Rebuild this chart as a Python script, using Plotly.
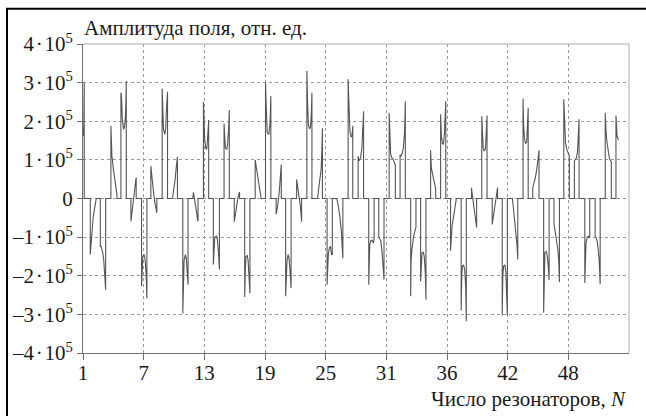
import plotly.graph_objects as go

# Position along the resonator chain and field amplitude (in units of 10^5)
position = [
    1.0, 1.04, 1.08, 1.12, 1.12,
    1.72, 1.72, 1.78, 1.85, 2.0, 2.15, 2.31, 2.31,
    2.71, 2.71, 2.78, 2.85, 2.95, 3.05, 3.15, 3.24, 3.24,
    3.76, 3.76, 3.86, 4.03, 4.15, 4.26, 4.36, 4.36,
    4.75, 4.75, 4.82, 4.88, 4.95, 5.01, 5.1, 5.18, 5.24, 5.28, 5.28,
    5.74, 5.74, 5.84, 6.0, 6.1, 6.18, 6.26, 6.26,
    6.79, 6.79, 6.85, 6.92, 7.05, 7.15, 7.25, 7.32, 7.32,
    7.71, 7.71, 7.8, 7.91, 8.0, 8.11, 8.2, 8.3, 8.3,
    8.83, 8.83, 8.9, 8.96, 9.09, 9.18, 9.25, 9.36, 9.36,
    9.82, 9.88, 10.0, 10.11, 10.2, 10.28, 10.34, 10.34,
    10.87, 10.87, 10.95, 11.0, 11.13, 11.22, 11.3, 11.39, 11.39,
    11.86, 11.92, 12.0, 12.09, 12.2, 12.3, 12.38, 12.38,
    12.91, 12.91, 12.97, 13.04, 13.17, 13.25, 13.33, 13.43, 13.43,
    13.89, 13.89, 13.95, 14.03, 14.22, 14.3, 14.4, 14.49, 14.49,
    14.95, 14.95, 15.02, 15.08, 15.21, 15.3, 15.4, 15.47, 15.47,
    15.96, 15.96, 16.05, 16.15, 16.25, 16.35, 16.48, 16.48,
    16.99, 16.99, 17.05, 17.12, 17.25, 17.33, 17.42, 17.51, 17.51,
    18.03, 18.03, 18.15, 18.24, 18.35, 18.45, 18.55, 18.62, 18.62,
    19.05, 19.05, 19.12, 19.22, 19.38, 19.5, 19.58, 19.58,
    20.1, 20.1, 20.25, 20.4, 20.5, 20.61, 20.61,
    21.04, 21.04, 21.1, 21.18, 21.28, 21.38, 21.48, 21.58, 21.58,
    22.13, 22.13, 22.25, 22.38, 22.5, 22.62, 22.62,
    23.14, 23.14, 23.22, 23.3, 23.4, 23.5, 23.58, 23.64, 23.64,
    24.2, 24.33, 24.45, 24.55, 24.62, 24.68, 24.68,
    25.14, 25.14, 25.2, 25.27, 25.37, 25.47, 25.58, 25.66, 25.66,
    26.1, 26.25, 26.4, 26.55, 26.65, 26.7, 26.7,
    27.22, 27.22, 27.3, 27.4, 27.5, 27.6, 27.68, 27.68,
    28.21, 28.21, 28.3, 28.45, 28.58, 28.68, 28.75, 28.75,
    29.26, 29.26, 29.3, 29.36, 29.45, 29.6, 29.72, 29.79, 29.79,
    30.25, 30.25, 30.35, 30.45, 30.58, 30.7, 30.77, 30.77,
    31.28, 31.28, 31.35, 31.43, 31.55, 31.7, 31.85, 31.89, 31.89,
    32.36, 32.36, 32.45, 32.55, 32.68, 32.8, 32.88, 32.88,
    33.41, 33.41, 33.45, 33.54, 33.7, 33.87, 33.93, 33.93,
    34.39, 34.39, 34.45, 34.53, 34.65, 34.75, 34.85, 34.92, 34.92,
    35.38, 35.38, 35.45, 35.6, 35.75, 35.88, 35.88,
    36.37, 36.37, 36.45, 36.55, 36.65, 36.75, 36.85, 36.88, 36.88,
    37.35, 37.35, 37.42, 37.5, 37.66, 37.8, 37.93, 37.93,
    38.4, 38.4, 38.46, 38.52, 38.64, 38.75, 38.85, 38.91, 38.91,
    39.42, 39.42, 39.5, 39.6, 39.75, 39.85, 39.93, 39.93,
    40.44, 40.44, 40.5, 40.58, 40.68, 40.8, 40.88, 40.96, 40.96,
    41.47, 41.47, 41.55, 41.7, 41.85, 42.0, 42.0,
    42.46, 42.46, 42.52, 42.6, 42.72, 42.82, 42.9, 42.97, 42.97,
    43.47, 43.55, 43.68, 43.8, 43.92, 44.0, 44.0,
    44.52, 44.52, 44.58, 44.66, 44.76, 44.88, 44.96, 45.03, 45.03,
    45.48, 45.48, 45.6, 45.75, 45.9, 46.0, 46.1, 46.1,
    46.56, 46.56, 46.62, 46.68, 46.8, 46.9, 47.0, 47.1, 47.1,
    47.58, 47.58, 47.7, 47.85, 47.95, 48.05, 48.12, 48.12,
    48.55, 48.55, 48.62, 48.72, 48.85, 48.97, 49.05, 49.1, 49.1,
    49.6, 49.6, 49.68, 49.8, 49.9, 49.98, 50.06, 50.06,
    50.63, 50.63, 50.68, 50.75, 50.88, 51.0, 51.12, 51.12,
    51.65, 51.65, 51.75, 51.85, 51.95, 52.05, 52.15, 52.15,
    52.65, 52.65, 52.72, 52.8, 52.9, 53.05, 53.18, 53.25, 53.25,
    53.71, 53.71, 53.76, 53.82, 53.9, 53.97,
]

amplitude = [
    1.7, 1.62, 1.95, 3.0, 0,
    0, -1.45, -1.2, -0.95, -0.5, -0.25, -0.03, 0,
    0, -1.24, -1.24, -1.3, -1.4, -1.6, -1.9, -2.36, 0,
    0, 1.88, 1.1, 0.71, 0.5, 0.32, 0.1, 0,
    0, 2.74, 2.6, 2.1, 1.83, 1.79, 1.85, 2.05, 2.5, 3.04, 0,
    0, -0.59, -0.4, -0.1, 0.2, 0.4, 0.54, 0,
    0, -2.27, -1.8, -1.5, -1.45, -1.6, -2.0, -2.58, 0,
    0, 0.84, 0.55, 0.3, 0.1, -0.11, -0.25, -0.37, 0,
    0, 2.85, 2.2, 1.8, 1.66, 1.8, 2.3, 2.76, 0,
    0, 0.06, 0.25, 0.49, 0.75, 0.9, 1.08, 0,
    0, -2.98, -2.0, -1.6, -1.45, -1.55, -1.9, -2.23, 0,
    0, 0.16, 0.05, -0.1, -0.3, -0.5, -0.59, 0,
    0, 2.5, 2.0, 1.5, 1.27, 1.3, 1.6, 2.03, 0,
    0, -1.71, -1.2, -1.0, -0.98, -1.1, -1.4, -1.84, 0,
    0, 1.94, 1.5, 1.31, 1.27, 1.4, 1.8, 2.29, 0,
    0, -0.6, -0.45, -0.25, -0.05, 0.06, 0.17, 0,
    0, -2.55, -1.9, -1.5, -1.48, -1.6, -2.0, -2.46, 0,
    0, 1.0, 0.8, 0.67, 0.5, 0.35, 0.15, 0.05, 0,
    0, 3.0, 2.4, 1.7, 1.66, 1.96, 2.65, 0,
    0, -0.41, -0.2, 0.15, 0.45, 0.88, 0,
    0, -2.53, -2.0, -1.6, -1.45, -1.55, -1.9, -2.32, 0,
    0, 0.49, 0.3, 0.06, -0.2, -0.6, 0,
    0, 3.3, 2.4, 1.9, 1.8, 1.85, 2.2, 2.74, 0,
    0, 0.3, 0.5, 0.75, 1.2, 1.82, 0,
    0, -2.23, -1.7, -1.41, -1.28, -1.24, -1.45, -1.45, 0,
    0, -0.2, -0.45, -0.85, -1.2, -1.55, 0,
    0, 3.09, 2.4, 1.75, 1.6, 1.6, 1.88, 0,
    0, 1.1, 0.98, 1.05, 1.3, 1.7, 2.26, 0,
    0, -2.23, -1.6, -1.2, -1.1, -1.08, -1.15, -1.06, 0,
    0, -0.98, -1.05, -1.1, -1.4, -1.8, -2.1, 0,
    0, 2.22, 1.6, 1.15, 1.05, 1.0, 0.88, 0.88, 0,
    0, 1.13, 1.1, 1.15, 1.3, 1.7, 2.52, 0,
    0, -2.53, -1.6, -1.3, -0.98, -0.8, -0.75, 0,
    0, -2.14, -1.6, -1.41, -1.38, -1.5, -1.9, -2.62, 0,
    0, 1.25, 0.8, 0.6, 0.45, 0.25, 0,
    0, 2.18, 1.6, 1.42, 1.4, 1.7, 2.3, 2.52, 0,
    0, -1.35, -1.1, -0.72, -0.45, -0.25, -0.05, 0,
    0, -2.9, -2.0, -1.75, -1.72, -1.85, -2.3, -3.18, 0,
    0, 0.28, 0.1, -0.1, -0.3, -0.5, -0.75, 0,
    0, 2.13, 1.6, 1.3, 1.23, 1.28, 1.7, 2.15, 0,
    0, -0.67, -0.5, -0.25, 0.0, 0.28, 0,
    0, -3.03, -2.0, -1.75, -1.72, -1.9, -2.5, -3.02, 0,
    0, -0.2, -0.5, -0.85, -1.2, -1.58, 0,
    0, 2.59, 1.9, 1.55, 1.43, 1.45, 1.9, 2.35, 0,
    0, 0.28, 0.38, 0.55, 0.8, 1.0, 1.25, 0,
    0, -2.96, -1.8, -1.4, -1.37, -1.45, -1.7, -2.11, 0,
    0, -0.65, -0.85, -1.1, -1.3, -1.6, -2.16, 0,
    0, 2.57, 1.8, 1.44, 1.27, 1.2, 1.15, 1.1, 0,
    0, 0.98, 1.0, 1.05, 1.2, 1.5, 2.05, 0,
    0, -2.19, -1.5, -1.15, -1.0, -0.98, -1.02, 0,
    0, -1.0, -1.02, -1.1, -1.3, -1.6, -2.22, 0,
    0, 2.22, 1.8, 1.5, 1.25, 1.05, 0.98, 0.95, 0,
    0, 2.15, 1.75, 1.6, 1.55, 1.52,
]

# Axis ticks
x_tick_pos = [1, 7, 13, 19, 25, 31, 37, 43, 49]
x_tick_text = ["1", "7", "13", "19", "25", "31", "36", "42", "48"]
y_tick_pos = [-4, -3, -2, -1, 0, 1, 2, 3, 4]
y_tick_text = ["\u20134\u200a·\u200a10<sup>5</sup>", "\u20133\u200a·\u200a10<sup>5</sup>",
               "\u20132\u200a·\u200a10<sup>5</sup>", "\u20131\u200a·\u200a10<sup>5</sup>", "0",
               "1\u200a·\u200a10<sup>5</sup>", "2\u200a·\u200a10<sup>5</sup>",
               "3\u200a·\u200a10<sup>5</sup>", "4\u200a·\u200a10<sup>5</sup>"]

FONT = "'Liberation Serif', 'Times New Roman', 'DejaVu Serif', serif"
SIZE = 21

fig = go.Figure()
fig.add_trace(go.Scatter(
    x=position, y=amplitude, mode="lines",
    line=dict(color="#555555", width=1.1),
    hoverinfo="skip", showlegend=False,
))

fig.update_layout(
    width=646, height=416,
    margin=dict(l=83, r=17, t=44, b=63),
    paper_bgcolor="white", plot_bgcolor="white",
    font=dict(family=FONT, size=SIZE, color="#1a1a1a"),
    xaxis=dict(
        range=[1, 55], tickmode="array", tickvals=x_tick_pos, ticktext=x_tick_text,
        showgrid=True, gridcolor="#9a9a9a", griddash="dot", gridwidth=1,
        showline=True, linecolor="#707070", linewidth=1,
        ticks="outside", ticklen=6, tickcolor="#707070",
        ticklabelstandoff=-5, automargin=False,
        zeroline=False, tickfont=dict(family=FONT, size=SIZE, color="#1a1a1a"),
    ),
    yaxis=dict(
        range=[-4, 4], tickmode="array", tickvals=y_tick_pos, ticktext=y_tick_text,
        showgrid=True, gridcolor="#9a9a9a", griddash="dot", gridwidth=1,
        showline=True, linecolor="#707070", linewidth=1,
        ticks="outside", ticklen=5, tickcolor="#707070", automargin=False,
        zeroline=False, tickfont=dict(family=FONT, size=SIZE, color="#1a1a1a"),
    ),
    shapes=[
        # light border on the top and right of the plotting area
        dict(type="line", xref="paper", yref="paper", x0=0, x1=1, y0=1, y1=1,
             line=dict(color="#ababab", width=1)),
        dict(type="line", xref="paper", yref="paper", x0=1, x1=1, y0=0, y1=1,
             line=dict(color="#ababab", width=1)),
        # outer frame
        dict(type="rect", xref="paper", yref="paper",
             x0=-0.1392, x1=1.2, y0=-0.4, y1=1.1142,
             line=dict(color="black", width=2)),
    ],
    annotations=[
        dict(text="Амплитуда поля, отн. ед.", xref="paper", yref="paper",
             x=0, y=1, xanchor="left", yanchor="bottom", yshift=2, xshift=-1,
             showarrow=False, font=dict(family=FONT, size=SIZE, color="#1a1a1a")),
        dict(text="Число резонаторов, <i>N</i>", xref="paper", yref="paper",
             x=0.998, y=-0.15, xanchor="right", yanchor="middle",
             showarrow=False, font=dict(family=FONT, size=SIZE, color="#1a1a1a")),
    ],
)

fig.write_html("out.html")
